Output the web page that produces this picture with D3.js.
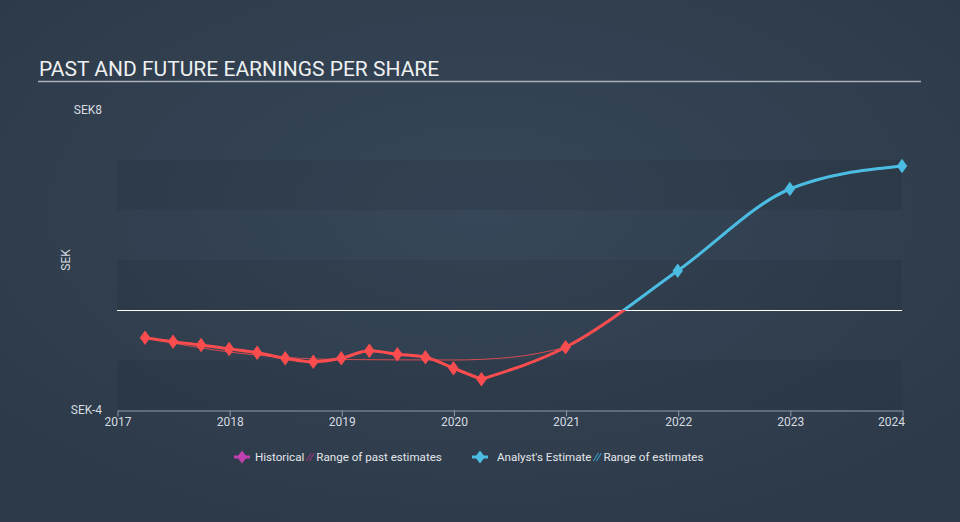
<!DOCTYPE html>
<html><head><meta charset="utf-8">
<script src="https://cdn.jsdelivr.net/npm/d3@7"></script>
<style>html,body{margin:0;padding:0;background:#2f3d4d;}svg{display:block;font-family:Roboto,"Open Sans",sans-serif;}</style>
</head><body>
<svg id="c" width="960" height="522"></svg>
<script>
const title = "PAST AND FUTURE EARNINGS PER SHARE";
const yTickValues = [-4, 8];
const yTickLabels = ["SEK-4", "SEK8"];
const xTickYears = [2017, 2018, 2019, 2020, 2021, 2022, 2023, 2024];
const bandEdges = [-4, -2, 0, 2, 4, 6];
const historicalX = [2017.25, 2017.5, 2017.75, 2018, 2018.25, 2018.5, 2018.75, 2019, 2019.25, 2019.5, 2019.75, 2020, 2020.25];
const historicalY = [-1.11, -1.27, -1.4, -1.56, -1.71, -1.93, -2.07, -1.93, -1.63, -1.77, -1.89, -2.33, -2.77];
const pastEstX = [2017.25, 2018, 2019, 2020, 2020.5, 2021];
const pastEstY = [-1.11, -1.68, -1.98, -2.0, -1.9, -1.5];
const forecastX = [2020.25, 2021, 2022, 2023, 2024];
const forecastY = [-2.77, -1.49, 1.57, 4.84, 5.76];
const legendItems = [
  {label: "Historical", color: "#c23fb0", hatchLabel: "Range of past estimates", hatch: "#8a3a7a"},
  {label: "Analyst's Estimate", color: "#4bbde3", hatchLabel: "Range of estimates", hatch: "#3a9ac0"}
];
const red = "#ff4d4f", blue = "#4bbde3";

const svg = d3.select("#c");
const defs = svg.append("defs");
const rg = defs.append("radialGradient").attr("id","bg").attr("cx","50%").attr("cy","40%").attr("r","70%");
rg.append("stop").attr("offset","0%").attr("stop-color","#374759");
rg.append("stop").attr("offset","100%").attr("stop-color","#2c3947");
svg.append("rect").attr("width",960).attr("height",522).attr("fill","url(#bg)");

const x = d3.scaleLinear().domain([2017, 2024]).range([117, 902]);
const y = d3.scaleLinear().domain([-4, 8]).range([410, 110]);

// bands
for (let i = 0; i < bandEdges.length - 1; i++) {
  if (i % 2 === 0) {
    svg.append("rect").attr("x", x(2017)).attr("width", x(2024) - x(2017))
      .attr("y", y(bandEdges[i+1])).attr("height", y(bandEdges[i]) - y(bandEdges[i+1]))
      .attr("fill", "rgba(20,30,40,0.13)");
  }
}

// title
svg.append("text").attr("x", 39).attr("y", 76).attr("fill", "#eef0f2").attr("font-size", 21).text(title);
svg.append("line").attr("x1", 38).attr("x2", 921).attr("y1", 81.5).attr("y2", 81.5).attr("stroke", "#a9b0b8").attr("stroke-width", 1.5);

// y labels
yTickValues.forEach((v, i) => {
  svg.append("text").attr("x", 102).attr("y", y(v) + 4).attr("text-anchor", "end")
    .attr("fill", "#d6dbe0").attr("font-size", 12).text(yTickLabels[i]);
});
svg.append("text").attr("transform", `translate(70,${y(2)}) rotate(-90)`).attr("text-anchor", "middle")
  .attr("fill", "#d6dbe0").attr("font-size", 12).text("SEK");

// zero line
svg.append("line").attr("x1", x(2017)).attr("x2", x(2024)).attr("y1", y(0) + 0.5).attr("y2", y(0) + 0.5)
  .attr("stroke", "#ffffff").attr("stroke-width", 1);

// x axis
const xAxis = d3.axisBottom(x).tickValues(xTickYears).tickFormat(d3.format("d")).tickSize(6).tickSizeOuter(0);
const ax = svg.append("g").attr("transform", `translate(0.5,${y(-4) + 0.5})`).call(xAxis);
ax.select(".domain").attr("stroke", "#8e9aa6");
ax.selectAll(".tick line").attr("stroke", "#8e9aa6");
ax.selectAll(".tick text").attr("fill", "#d6dbe0").attr("font-size", 12).attr("dy", "0.55em")
  .attr("font-family", "Roboto,sans-serif");
ax.selectAll(".tick text").filter(d => d === 2024).attr("text-anchor", "end").attr("x", 2);

const curve = d3.curveMonotoneX;
const line = d3.line().x(d => x(d[0])).y(d => y(d[1])).curve(curve);

// past estimates thin line
const pastEst = pastEstX.map((v, i) => [v, pastEstY[i]]);
svg.append("path").attr("d", line(pastEst)).attr("fill", "none").attr("stroke", red).attr("stroke-width", 1).attr("opacity", 0.8);

// historical line
const hist = historicalX.map((v, i) => [v, historicalY[i]]);
svg.append("path").attr("d", line(hist)).attr("fill", "none").attr("stroke", red).attr("stroke-width", 3).attr("stroke-linejoin", "round");

// forecast line with color split at zero
const fc = forecastX.map((v, i) => [v, forecastY[i]]);
const lg = defs.append("linearGradient").attr("id", "fcg").attr("gradientUnits", "userSpaceOnUse")
  .attr("x1", 0).attr("x2", 0).attr("y1", y(-4)).attr("y2", y(8));
const zf = (y(-4) - y(0)) / (y(-4) - y(8));
lg.append("stop").attr("offset", zf).attr("stop-color", red);
lg.append("stop").attr("offset", zf).attr("stop-color", blue);
svg.append("path").attr("d", line(fc)).attr("fill", "none").attr("stroke", "url(#fcg)").attr("stroke-width", 3);

const diamond = d3.symbol().type(d3.symbolDiamond).size(60);
function markers(data, colorFn) {
  svg.append("g").selectAll("path").data(data).join("path")
    .attr("d", diamond).attr("transform", d => `translate(${x(d[0])},${y(d[1])}) scale(1.25,1)`)
    .attr("fill", d => colorFn(d));
}
markers(hist, () => red);
markers(fc.slice(1), d => d[1] < 0 ? red : blue);

// legend
const lgY = 457;
const legendPos = [{mx: 242, tx: 255}, {mx: 480, tx: 497}];
legendItems.forEach((it, i) => {
  const p = legendPos[i];
  const g = svg.append("g");
  g.append("line").attr("x1", p.mx - 8).attr("x2", p.mx + 8).attr("y1", lgY).attr("y2", lgY).attr("stroke", it.color).attr("stroke-width", 3);
  g.append("path").attr("d", d3.symbol().type(d3.symbolDiamond).size(50)).attr("transform", `translate(${p.mx},${lgY}) scale(1.3,1)`).attr("fill", it.color);
  const t = g.append("text").attr("x", p.tx).attr("y", lgY + 4).attr("fill", "#e3e6ea").attr("font-size", 11.6).text(it.label);
  const w = t.node().getComputedTextLength();
  const hx = p.tx + w + 2;
  for (let k = 0; k < 2; k++) {
    g.append("line").attr("x1", hx + k * 3).attr("y1", lgY + 4).attr("x2", hx + k * 3 + 5).attr("y2", lgY - 4)
      .attr("stroke", it.hatch).attr("stroke-width", 1.2);
  }
  g.append("text").attr("x", hx + 10).attr("y", lgY + 4).attr("fill", "#e3e6ea").attr("font-size", 11.6).text(it.hatchLabel);
});
</script>
</body></html>
